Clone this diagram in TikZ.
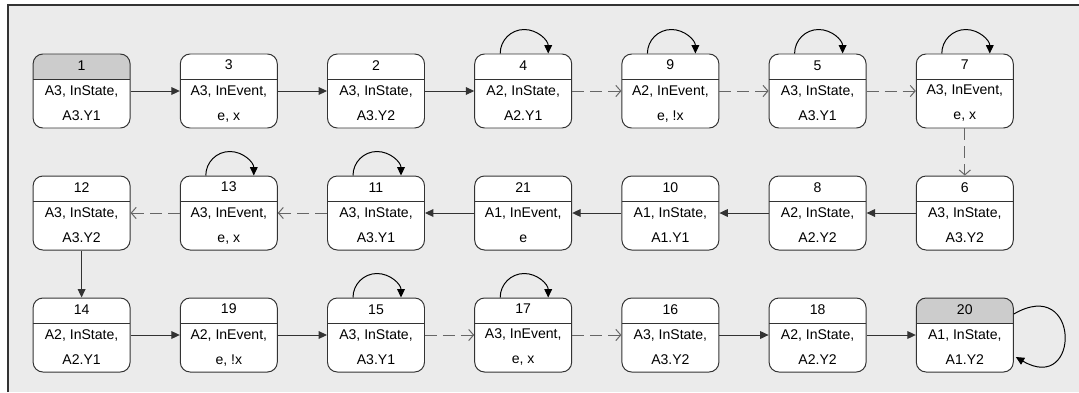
\documentclass[tikz,border=0pt]{standalone}
\usepackage{fontspec}
\setmainfont{Liberation Sans}
\usepackage{xcolor}
\usetikzlibrary{arrows.meta,positioning,calc}

\definecolor{bgpanel}{HTML}{EBEBEB}
\definecolor{hdrgray}{HTML}{CCCCCC}
\definecolor{edgegray}{HTML}{333333}
\definecolor{dashgray}{HTML}{666666}

\begin{document}
\begin{tikzpicture}[
  state/.style={draw=edgegray, line width=0.7pt, rounded corners=7pt, fill=white,
    minimum width=2.425cm, minimum height=1.85cm, inner sep=0pt, align=center,
    font=\fontsize{10}{17.8}\selectfont,
    path picture={
      \fill[#1, sharp corners] (path picture bounding box.north west) rectangle ([yshift=-0.625cm]path picture bounding box.north east);
      \draw[edgegray, line width=0.7pt, sharp corners] ([yshift=-0.625cm]path picture bounding box.north west) -- ([yshift=-0.625cm]path picture bounding box.north east);
    }},
  state/.default=white,
  arr/.style={-{Triangle[length=6pt,width=5.5pt]}, line width=0.7pt, edgegray},
  darr/.style={-{Straight Barb[length=3.5pt,width=8pt]}, line width=0.7pt, dashgray, dash pattern=on 8.5pt off 4.3pt},
  selfarr/.style={-{Triangle[length=6pt,width=5.5pt]}, line width=0.7pt, black}
]
\useasboundingbox (0,0) rectangle (26.975,-9.8);
% panel
\fill[bgpanel] (0.2,-0.125) rectangle (26.975,-9.8);
\draw[edgegray, line width=1pt] (0.2,-9.8) -- (0.2,-0.125) -- (26.975,-0.125);

% first row
\node[state=hdrgray] (s1) at (2.04,-2.275) {1\\A3, InState,\\A3.Y1};
\node[state] (s3) at (5.72,-2.275) {3\\A3, InEvent,\\e, x};
\node[state] (s2) at (9.40,-2.275) {2\\A3, InState,\\A3.Y2};
\node[state] (s4) at (13.08,-2.275) {4\\A2, InState,\\A2.Y1};
\node[state] (s9) at (16.76,-2.275) {9\\A2, InEvent,\\e, !x};
\node[state] (s5) at (20.44,-2.275) {5\\A3, InState,\\A3.Y1};
\node[state] (s7) at (24.12,-2.275) {7\\A3, InEvent,\\e, x};

% second row
\node[state] (s12) at (2.04,-5.325) {12\\A3, InState,\\A3.Y2};
\node[state] (s13) at (5.72,-5.325) {13\\A3, InEvent,\\e, x};
\node[state] (s11) at (9.40,-5.325) {11\\A3, InState,\\A3.Y1};
\node[state] (s21) at (13.08,-5.325) {21\\A1, InEvent,\\e};
\node[state] (s10) at (16.76,-5.325) {10\\A1, InState,\\A1.Y1};
\node[state] (s8) at (20.44,-5.325) {8\\A2, InState,\\A2.Y2};
\node[state] (s6) at (24.12,-5.325) {6\\A3, InState,\\A3.Y2};

% third row
\node[state] (s14) at (2.04,-8.375) {14\\A2, InState,\\A2.Y1};
\node[state] (s19) at (5.72,-8.375) {19\\A2, InEvent,\\e, !x};
\node[state] (s15) at (9.40,-8.375) {15\\A3, InState,\\A3.Y1};
\node[state] (s17) at (13.08,-8.375) {17\\A3, InEvent,\\e, x};
\node[state] (s16) at (16.76,-8.375) {16\\A3, InState,\\A3.Y2};
\node[state] (s18) at (20.44,-8.375) {18\\A2, InState,\\A2.Y2};
\node[state=hdrgray] (s20) at (24.12,-8.375) {20\\A1, InState,\\A1.Y2};

% transitions
\draw[arr] (s1) -- (s3);
\draw[arr] (s3) -- (s2);
\draw[arr] (s2) -- (s4);
\draw[darr] (s4) -- (s9);
\draw[darr] (s9) -- (s5);
\draw[darr] (s5) -- (s7);
\draw[darr] (s7) -- (s6);
\draw[arr] (s6) -- (s8);
\draw[arr] (s8) -- (s10);
\draw[arr] (s10) -- (s21);
\draw[arr] (s21) -- (s11);
\draw[darr] (s11) -- (s13);
\draw[darr] (s13) -- (s12);
\draw[arr] (s12) -- (s14);
\draw[arr] (s14) -- (s19);
\draw[arr] (s19) -- (s15);
\draw[darr] (s15) -- (s17);
\draw[darr] (s17) -- (s16);
\draw[arr] (s16) -- (s18);
\draw[arr] (s18) -- (s20);

% self loops
\draw[selfarr] ([xshift=-0.575cm]s4.north) arc[start angle=180, end angle=0, radius=0.6cm];
\draw[selfarr] ([xshift=-0.575cm]s9.north) arc[start angle=180, end angle=0, radius=0.6cm];
\draw[selfarr] ([xshift=-0.575cm]s5.north) arc[start angle=180, end angle=0, radius=0.6cm];
\draw[selfarr] ([xshift=-0.575cm]s7.north) arc[start angle=180, end angle=0, radius=0.6cm];
\draw[selfarr] ([xshift=-0.575cm]s13.north) arc[start angle=180, end angle=0, radius=0.6cm];
\draw[selfarr] ([xshift=-0.575cm]s11.north) arc[start angle=180, end angle=0, radius=0.6cm];
\draw[selfarr] ([xshift=-0.575cm]s15.north) arc[start angle=180, end angle=0, radius=0.6cm];
\draw[selfarr] ([xshift=-0.575cm]s17.north) arc[start angle=180, end angle=0, radius=0.6cm];
\draw[selfarr] ([yshift=0.525cm]s20.east) .. controls +(1.675,0.975) and +(1.625,-0.95) .. ([xshift=0.05cm,yshift=-0.55cm]s20.east);
\end{tikzpicture}
\end{document}
